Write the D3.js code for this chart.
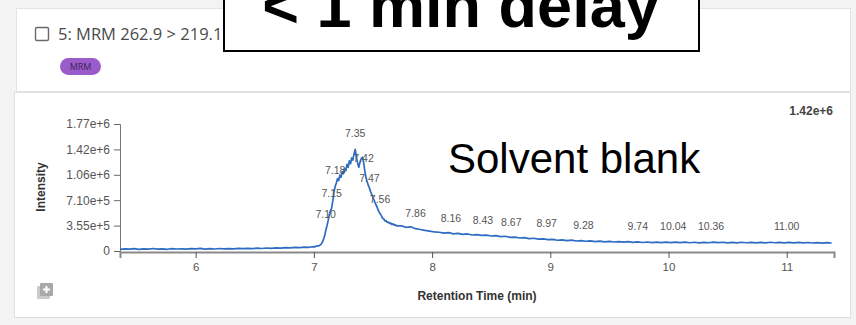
<!DOCTYPE html>
<html>
<head>
<meta charset="utf-8">
<script src="https://cdn.jsdelivr.net/npm/d3@7"></script>
<style>
  html, body { margin: 0; padding: 0; background: #f3f3f3; }
  svg { display: block; }
</style>
</head>
<body>
<svg id="chart" width="856" height="325"></svg>
<script>
// Chromatogram trace: [retention time (min), intensity (counts)]
const tracePoints = [
  [5.36,22e3],[5.40,30e3],[5.44,25e3],[5.48,33e3],[5.52,24e3],[5.56,31e3],[5.60,26e3],[5.64,35e3],
  [5.68,27e3],[5.72,30e3],[5.76,24e3],[5.80,34e3],[5.84,28e3],[5.88,31e3],[5.92,25e3],[5.96,33e3],
  [6.00,29e3],[6.04,36e3],[6.08,27e3],[6.12,32e3],[6.16,28e3],[6.20,35e3],[6.24,30e3],[6.28,34e3],
  [6.32,29e3],[6.36,37e3],[6.40,32e3],[6.44,38e3],[6.48,33e3],[6.52,40e3],[6.56,35e3],[6.60,42e3],
  [6.64,38e3],[6.68,44e3],[6.72,40e3],[6.76,47e3],[6.80,43e3],[6.84,50e3],[6.88,46e3],[6.92,55e3],
  [6.96,52e3],
  [7.00,62e3],[7.01,58e3],[7.02,68e3],[7.03,72e3],[7.04,70e3],[7.05,80e3],[7.06,92e3],[7.07,118e3],
  [7.08,155e3],[7.09,205e3],[7.10,280e3],[7.11,345e3],[7.12,420e3],[7.13,505e3],[7.14,560e3],[7.15,600e3],
  [7.16,700e3],[7.17,820e3],[7.18,900e3],[7.19,950e3],[7.20,1010e3],[7.21,985e3],[7.22,1060e3],[7.23,1030e3],
  [7.24,1110e3],[7.25,1080e3],[7.26,1150e3],[7.27,1120e3],[7.28,1210e3],[7.29,1170e3],[7.30,1260e3],[7.31,1220e3],
  [7.32,1300e3],[7.33,1270e3],[7.34,1360e3],[7.35,1420e3],[7.36,1300e3],[7.37,1230e3],[7.38,1170e3],[7.39,1240e3],
  [7.40,1290e3],[7.41,1310e3],[7.42,1250e3],[7.43,1130e3],[7.44,1030e3],[7.45,970e3],[7.46,920e3],[7.47,880e3],
  [7.48,830e3],[7.49,790e3],[7.50,740e3],[7.51,710e3],[7.52,665e3],[7.53,630e3],[7.54,590e3],[7.55,550e3],
  [7.56,520e3],[7.57,500e3],[7.58,458e3],[7.59,450e3],[7.60,422e3],[7.61,425e3],[7.62,400e3],[7.63,405e3],
  [7.64,385e3],[7.65,392e3],[7.66,370e3],[7.67,380e3],[7.68,360e3],[7.69,368e3],[7.70,350e3],
  [7.74,352e3],[7.78,330e3],[7.82,338e3],[7.86,312e3],[7.90,300e3],[7.94,288e3],[7.98,278e3],[8.02,266e3],
  [8.06,262e3],[8.10,250e3],[8.14,256e3],[8.18,240e3],[8.22,246e3],[8.26,232e3],[8.30,238e3],[8.34,224e3],
  [8.38,230e3],[8.42,218e3],[8.46,222e3],[8.50,210e3],[8.54,214e3],[8.58,202e3],[8.62,206e3],[8.66,190e3],
  [8.70,194e3],[8.74,182e3],[8.78,186e3],[8.82,174e3],[8.86,178e3],[8.90,166e3],[8.94,170e3],[8.98,158e3],
  [9.02,162e3],[9.06,150e3],[9.10,155e3],[9.14,146e3],[9.18,151e3],[9.22,140e3],[9.26,146e3],[9.30,136e3],
  [9.34,142e3],[9.38,132e3],[9.42,138e3],[9.46,128e3],[9.50,135e3],[9.54,126e3],[9.58,132e3],[9.62,124e3],
  [9.66,130e3],[9.70,121e3],[9.74,128e3],[9.78,119e3],[9.82,126e3],[9.86,118e3],[9.90,125e3],[9.94,117e3],
  [9.98,124e3],[10.02,116e3],[10.06,125e3],[10.10,117e3],[10.14,123e3],[10.18,115e3],[10.22,122e3],[10.26,114e3],
  [10.30,121e3],[10.34,115e3],[10.38,124e3],[10.42,116e3],[10.46,122e3],[10.50,113e3],[10.54,121e3],[10.58,114e3],
  [10.62,122e3],[10.66,115e3],[10.70,121e3],[10.74,113e3],[10.78,120e3],[10.82,114e3],[10.86,122e3],[10.90,115e3],
  [10.94,121e3],[10.98,113e3],[11.02,120e3],[11.06,114e3],[11.10,121e3],[11.14,113e3],[11.18,119e3],[11.22,112e3],
  [11.26,118e3],[11.30,111e3],[11.34,117e3],[11.38,112e3]
];

// Annotated apex retention times and the height each label sits at
const peakTimes = [7.10, 7.15, 7.18, 7.35, 7.42, 7.47, 7.56, 7.86, 8.16, 8.43, 8.67, 8.97, 9.28, 9.74, 10.04, 10.36, 11.00];
const peakLabelIntensity = [289e3, 591e3, 908e3, 1420e3, 1080e3, 801e3, 507e3, 312e3, 242e3, 210e3, 182e3, 163e3, 136e3, 126e3, 126e3, 126e3, 126e3];

const timeDomain = [5.36, 11.40];
const timeTicks = [6, 7, 8, 9, 10, 11];
const intensityTicks = [0, 355e3, 710e3, 1065e3, 1420e3, 1775e3];
const intensityTickLabels = ["0", "3.55e+5", "7.10e+5", "1.06e+6", "1.42e+6", "1.77e+6"];
const maxIntensityLabel = "1.42e+6";

const traceTitle = "5: MRM 262.9 > 219.1";
const badgeText = "MRM";
const headline = "< 1 min delay";
const sampleNote = "Solvent blank";

const svg = d3.select("#chart");
const chartFont = "'Liberation Sans', Arial, sans-serif";

// page and cards
svg.append("rect").attr("width", 856).attr("height", 325).attr("fill", "#f3f3f3");
svg.append("rect").attr("x", 16.5).attr("y", 8.5).attr("width", 834).attr("height", 83)
  .attr("fill", "#fff").attr("stroke", "#e4e4e4");
svg.append("rect").attr("x", 14.5).attr("y", 92.5).attr("width", 836).attr("height", 225)
  .attr("fill", "#fff").attr("stroke", "#dedede");

// card header: checkbox, trace title, badge
svg.append("rect").attr("x", 35.5).attr("y", 27.5).attr("width", 13).attr("height", 13).attr("rx", 1.5)
  .attr("fill", "#fff").attr("stroke", "#6a6a6a").attr("stroke-width", 1.4);
svg.append("text").attr("x", 58).attr("y", 40)
  .attr("font-family", "'Open Sans', sans-serif").attr("font-size", 16.5).attr("fill", "#4a4a4a")
  .text(traceTitle);
svg.append("rect").attr("x", 60).attr("y", 58).attr("width", 41).attr("height", 17).attr("rx", 8.5)
  .attr("fill", "#9b5ccb");
svg.append("text").attr("x", 80.5).attr("y", 69.8).attr("text-anchor", "middle")
  .attr("font-family", "'Open Sans', sans-serif").attr("font-size", 9).attr("fill", "#3e1f5c")
  .text(badgeText);

// plot scales
const x = d3.scaleLinear().domain(timeDomain).range([120, 834]);
const y = d3.scaleLinear().domain([0, 1775e3]).range([251, 124]);

// axes
const xAxis = d3.axisBottom(x).tickValues(timeTicks).tickFormat(d3.format("d"))
  .tickSize(6).tickSizeOuter(6).tickPadding(5);
const gx = svg.append("g").attr("transform", "translate(0,252)").call(xAxis);
gx.select(".domain").attr("stroke", "#8a8a8a").attr("stroke-width", 2);
gx.selectAll(".tick line").attr("stroke", "#555");
gx.selectAll("text").attr("font-family", chartFont).attr("font-size", 11.5).attr("fill", "#555");

const yAxis = d3.axisLeft(y).tickValues(intensityTicks)
  .tickFormat((d, i) => intensityTickLabels[i]).tickSize(6).tickSizeOuter(6).tickPadding(4);
const gy = svg.append("g").attr("transform", "translate(120,0)").call(yAxis);
gy.select(".domain").attr("stroke", "#777");
gy.selectAll(".tick line").attr("stroke", "#666");
gy.selectAll("text").attr("font-family", chartFont).attr("font-size", 12).attr("fill", "#555");

// axis titles
svg.append("text").attr("x", 477).attr("y", 300).attr("text-anchor", "middle")
  .attr("font-family", chartFont).attr("font-size", 12).attr("font-weight", "bold").attr("fill", "#333")
  .text("Retention Time (min)");
svg.append("text").attr("transform", "translate(45,187) rotate(-90)").attr("text-anchor", "middle")
  .attr("font-family", chartFont).attr("font-size", 12).attr("font-weight", "bold").attr("fill", "#333")
  .text("Intensity");
svg.append("text").attr("x", 833).attr("y", 115).attr("text-anchor", "end")
  .attr("font-family", chartFont).attr("font-size", 12).attr("font-weight", "bold").attr("fill", "#444")
  .text(maxIntensityLabel);

// trace
svg.append("defs").append("clipPath").attr("id", "plotClip")
  .append("rect").attr("x", 120).attr("y", 110).attr("width", 714).attr("height", 142);
const line = d3.line().x(d => x(d[0])).y(d => y(d[1]));
svg.append("path").datum(tracePoints).attr("clip-path", "url(#plotClip)")
  .attr("d", line).attr("fill", "none").attr("stroke", "#2d6cc2").attr("stroke-width", 1.7)
  .attr("stroke-linejoin", "round");

// apex labels
svg.append("g").selectAll("text").data(peakTimes).join("text")
  .attr("x", d => x(d)).attr("y", (d, i) => y(peakLabelIntensity[i]) - 12)
  .attr("text-anchor", "middle").attr("font-family", chartFont).attr("font-size", 10.5)
  .attr("fill", "#555").text(d => d.toFixed(2));

// sample annotation
svg.append("text").attr("x", 448).attr("y", 173)
  .attr("font-family", chartFont).attr("font-size", 42).attr("fill", "#000")
  .text(sampleNote);

// add-trace icon
const icon = svg.append("g").attr("transform", "translate(39,283)");
icon.append("rect").attr("x", -2).attr("y", 3).attr("width", 13).attr("height", 13).attr("rx", 1).attr("fill", "#cacaca");
icon.append("rect").attr("x", 1).attr("y", 0).attr("width", 13).attr("height", 13).attr("rx", 1).attr("fill", "#a9a9a9");
icon.append("path").attr("d", "M7.5,3 V10 M4,6.5 H11").attr("stroke", "#fff").attr("stroke-width", 2);

// headline box
svg.append("rect").attr("x", 224).attr("y", -6).attr("width", 475).attr("height", 57)
  .attr("fill", "#fff").attr("stroke", "#000").attr("stroke-width", 2);
svg.append("text").attr("x", 461).attr("y", 27).attr("text-anchor", "middle")
  .attr("font-family", chartFont).attr("font-size", 63).attr("font-weight", "bold").attr("fill", "#000")
  .text(headline);
</script>
</body>
</html>
